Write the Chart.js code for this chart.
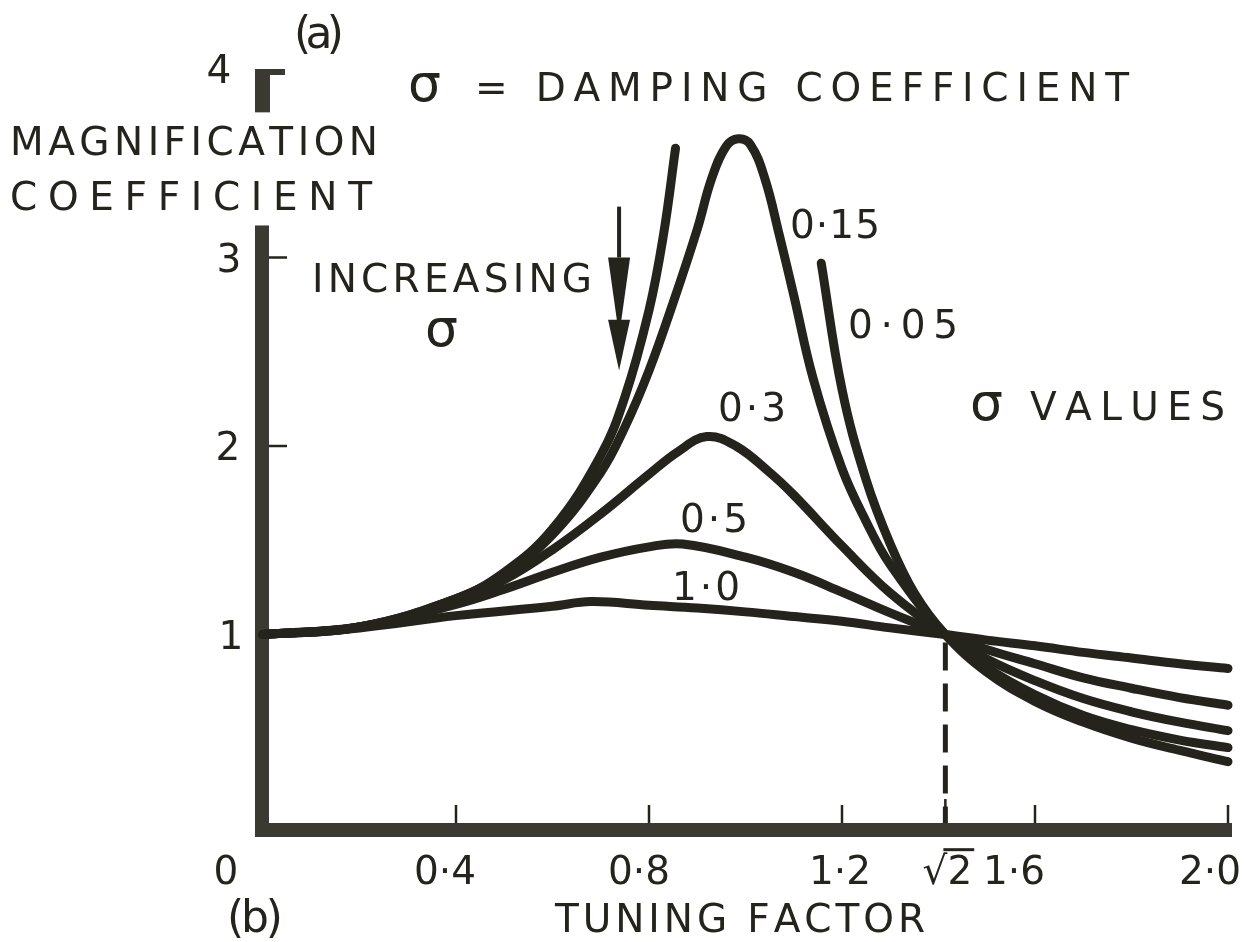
<!DOCTYPE html>
<html lang="en">
<head>
  <meta charset="UTF-8" />
  <title>Magnification coefficient against tuning factor</title>
  <script src="https://cdn.jsdelivr.net/npm/chart.js"></script>
  <style>
    html, body { margin: 0; padding: 0; background: #fff; }
    #wrap { width: 1244px; height: 942px; }
  </style>
</head>
<body>
  <div id="wrap"><canvas id="chart" width="1244" height="942"></canvas></div>

  <script>
    // tuning factor (x) and magnification coefficient (y), one pair of arrays per damping value
    const tf10 = [0, 0.2, 0.4, 0.6, 0.68, 0.8, 0.9, 1.0, 1.1, 1.2, 1.3, 1.414, 1.5, 1.6, 1.7, 1.8, 1.9, 2.0];
    const mag10 = [1.0, 1.035, 1.10, 1.15, 1.175, 1.155, 1.14, 1.12, 1.095, 1.07, 1.035, 1.0, 0.97, 0.94, 0.905, 0.875, 0.845, 0.82];

    const tf50 = [0, 0.2, 0.4, 0.5, 0.6, 0.7, 0.8, 0.87, 1.0, 1.1, 1.2, 1.3, 1.414, 1.5, 1.6, 1.7, 1.8, 1.9, 2.0];
    const mag50 = [1.0, 1.04, 1.16, 1.24, 1.33, 1.41, 1.465, 1.48, 1.41, 1.33, 1.225, 1.115, 1.0, 0.92, 0.845, 0.77, 0.715, 0.665, 0.625];

    const tf30 = [0, 0.2, 0.4, 0.5, 0.6, 0.7, 0.8, 0.86, 0.92, 0.98, 1.05, 1.1, 1.2, 1.3, 1.414, 1.5, 1.6, 1.7, 1.8, 1.9, 2.0];
    const mag30 = [1.0, 1.04, 1.18, 1.29, 1.45, 1.64, 1.85, 1.97, 2.05, 2.0, 1.86, 1.74, 1.47, 1.22, 1.0, 0.87, 0.755, 0.66, 0.59, 0.535, 0.49];

    const tf15 = [0, 0.2, 0.4, 0.5, 0.6, 0.7, 0.75, 0.8, 0.85, 0.9, 0.93, 0.96, 0.985, 1.01, 1.04, 1.07, 1.1, 1.14, 1.2, 1.25, 1.3, 1.414, 1.5, 1.6, 1.7, 1.8, 1.9, 2.0];
    const mag15 = [1.0, 1.04, 1.19, 1.32, 1.53, 1.86, 2.1, 2.4, 2.76, 3.15, 3.42, 3.59, 3.63, 3.6, 3.42, 3.12, 2.8, 2.36, 1.88, 1.6, 1.37, 1.0, 0.825, 0.68, 0.57, 0.495, 0.44, 0.40];

    // sigma = 0.05 runs off the top, so it is drawn as a rising and a falling branch
    const tf05a = [0, 0.2, 0.4, 0.5, 0.6, 0.7, 0.75, 0.8, 0.83, 0.855];
    const mag05a = [1.0, 1.04, 1.19, 1.33, 1.56, 1.95, 2.26, 2.72, 3.12, 3.58];
    const tf05b = [1.157, 1.2, 1.25, 1.3, 1.35, 1.414, 1.5, 1.6, 1.7, 1.8, 1.9, 2.0];
    const mag05b = [2.97, 2.3, 1.82, 1.48, 1.22, 1.0, 0.80, 0.645, 0.535, 0.45, 0.385, 0.325];

    const xTicks = [0, 0.4, 0.8, 1.2, Math.SQRT2, 1.6, 2.0];
    const xTickLabels = ['0', '0·4', '0·8', '1·2', '√2', '1·6', '2·0'];
    const yTicks = [1, 2, 3, 4];
    const yTickLabels = ['1', '2', '3', '4'];

    // axis is broken between these two values
    const yBreak = [3.17, 3.77];

    const ink = '#25241c';
    const axisInk = '#3a3932';
    const font = '"DejaVu Sans", sans-serif';

    // small nudges so the tick text sits where the lettering was placed
    const xLabelShift = [-37, -11, -10, -2, 2, -21, -18];
    const yLabelX = [231, 228, 229, 219];

    const notes = [
      { t: 'MAGNIFICATION', x: 10, y: 155, w: 368 },
      { t: 'COEFFICIENT', x: 10, y: 210, w: 362 },
      { t: '= DAMPING COEFFICIENT', x: 475, y: 101, w: 654 },
      { t: 'INCREASING', x: 312, y: 292, w: 280 },
      { t: '0·15', x: 790, y: 238, w: 90 },
      { t: '0·05', x: 848, y: 338, w: 110 },
      { t: '0·3', x: 718, y: 421, w: 68 },
      { t: '0·5', x: 680, y: 532, w: 68 },
      { t: '1·0', x: 672, y: 600, w: 68 },
      { t: 'VALUES', x: 1030, y: 420, w: 195 },
      { t: 'TUNING FACTOR', x: 555, y: 932, w: 370 },
      { t: '(a)', x: 294, y: 48, w: 50, size: 44 },
      { t: '(b)', x: 227, y: 932, w: 56, size: 44 }
    ];
    const sigmas = [{ x: 408, y: 101 }, { x: 425, y: 346 }, { x: 970, y: 420 }];

    const toPoints = (xs, ys) => xs.map((x, i) => ({ x, y: ys[i] }));

    function curve(label, xs, ys) {
      return {
        label,
        data: toPoints(xs, ys),
        borderColor: ink,
        borderWidth: 9,
        borderCapStyle: 'round',
        borderJoinStyle: 'round',
        tension: 0.4,
        pointRadius: 0,
        fill: false,
        clip: false
      };
    }

    // letters spread out evenly to fill a given width
    function spaced(ctx, text, left, base, width) {
      const chars = [...text];
      const widths = chars.map(c => ctx.measureText(c).width);
      const total = widths.reduce((a, b) => a + b, 0);
      const gap = chars.length > 1 ? (width - total) / (chars.length - 1) : 0;
      let x = left;
      chars.forEach((c, i) => {
        ctx.fillText(c, x, base);
        x += widths[i] + gap;
      });
    }

    const axesPlugin = {
      id: 'axes',
      beforeDraw(chart) {
        const ctx = chart.ctx;
        ctx.save();
        ctx.fillStyle = '#ffffff';
        ctx.fillRect(0, 0, chart.width, chart.height);
        ctx.restore();
      },
      beforeDatasetsDraw(chart) {
        const { ctx, scales: { x, y } } = chart;
        const x0 = x.getPixelForValue(0);
        const y0 = y.getPixelForValue(0);
        const xEnd = x.getPixelForValue(2);
        ctx.save();
        ctx.fillStyle = axisInk;
        // vertical axis, broken below 4
        const axTop = y.getPixelForValue(yBreak[0]);
        ctx.fillRect(x0 - 8, axTop, 14, y0 + 14 - axTop);
        const y4 = y.getPixelForValue(4);
        ctx.fillRect(x0 - 8, y4, 15, y.getPixelForValue(yBreak[1]) - y4);
        ctx.fillRect(x0 - 8, y4, 30, 6);
        // horizontal axis
        ctx.fillRect(x0 - 8, y0, xEnd + 4 - (x0 - 8), 14);

        // tick marks point into the plot
        ctx.strokeStyle = ink;
        ctx.lineWidth = 2.5;
        xTicks.forEach(v => {
          if (v === 0) return;
          const px = x.getPixelForValue(v);
          const len = v === Math.SQRT2 ? 24 : 18;
          ctx.beginPath();
          ctx.moveTo(px, y0);
          ctx.lineTo(px, y0 - len);
          ctx.stroke();
        });
        yTicks.slice(0, 3).forEach(v => {
          const py = y.getPixelForValue(v);
          ctx.beginPath();
          ctx.moveTo(x0 + 6, py);
          ctx.lineTo(x0 + 24, py);
          ctx.stroke();
        });

        // dashed drop line from the common crossing point
        const xr = x.getPixelForValue(Math.SQRT2);
        ctx.lineWidth = 5;
        ctx.setLineDash([28, 13]);
        ctx.beginPath();
        ctx.moveTo(xr, y.getPixelForValue(1) + 8);
        ctx.lineTo(xr, y0);
        ctx.stroke();
        ctx.setLineDash([]);

        // arrow marking the direction of increasing damping
        const ax = x.getPixelForValue(0.738);
        const aTop = y.getPixelForValue(3.27);
        const h1 = y.getPixelForValue(3.0);
        const h2 = y.getPixelForValue(2.67);
        const tip = y.getPixelForValue(2.4);
        ctx.lineWidth = 4;
        ctx.beginPath();
        ctx.moveTo(ax, aTop);
        ctx.lineTo(ax, h1);
        ctx.stroke();
        ctx.fillStyle = ink;
        ctx.beginPath();
        ctx.moveTo(ax - 11, h1);
        ctx.lineTo(ax + 11, h1);
        ctx.lineTo(ax + 2, h2 + 2);
        ctx.lineTo(ax - 2, h2 + 2);
        ctx.closePath();
        ctx.fill();
        ctx.beginPath();
        ctx.moveTo(ax - 11, h2);
        ctx.lineTo(ax + 11, h2);
        ctx.lineTo(ax, tip);
        ctx.closePath();
        ctx.fill();
        ctx.restore();
      },
      afterDraw(chart) {
        const { ctx, scales: { x, y } } = chart;
        const size = 39;
        ctx.save();
        ctx.fillStyle = ink;
        ctx.strokeStyle = ink;
        ctx.textBaseline = 'alphabetic';
        ctx.font = `${size}px ${font}`;

        // tick labels
        ctx.textAlign = 'left';
        xTicks.forEach((v, i) => {
          const txt = xTickLabels[i];
          const w = ctx.measureText(txt).width;
          const left = x.getPixelForValue(v) + xLabelShift[i] - w / 2;
          ctx.fillText(txt, left, 884);
          if (txt.startsWith('√')) {
            // bar over the radicand
            const wr = ctx.measureText('√').width;
            ctx.lineWidth = 3;
            ctx.beginPath();
            ctx.moveTo(left + wr - 4, 884 - size * 0.88);
            ctx.lineTo(left + w + 2, 884 - size * 0.88);
            ctx.stroke();
          }
        });
        ctx.textAlign = 'center';
        yTicks.forEach((v, i) => {
          const py = y.getPixelForValue(v) + size * 0.73 / 2;
          ctx.fillText(yTickLabels[i], yLabelX[i], py);
        });

        // titles and curve notes
        ctx.textAlign = 'left';
        notes.forEach(n => {
          ctx.font = `${n.size || size}px ${font}`;
          spaced(ctx, n.t, n.x, n.y, n.w);
        });
        ctx.font = `52px ${font}`;
        sigmas.forEach(s => ctx.fillText('σ', s.x, s.y));
        ctx.restore();
      }
    };

    const ctx = document.getElementById('chart').getContext('2d');
    new Chart(ctx, {
      type: 'line',
      data: {
        datasets: [
          curve('1·0', tf10, mag10),
          curve('0·5', tf50, mag50),
          curve('0·3', tf30, mag30),
          curve('0·15', tf15, mag15),
          curve('0·05', tf05a, mag05a),
          curve('0·05', tf05b, mag05b)
        ]
      },
      options: {
        responsive: false,
        animation: false,
        events: [],
        layout: { padding: { left: 263, right: 16, top: 69, bottom: 119 } },
        plugins: {
          legend: { display: false },
          tooltip: { enabled: false }
        },
        scales: {
          x: { type: 'linear', min: 0, max: 2, display: false },
          y: { type: 'linear', min: 0, max: 4, display: false }
        }
      },
      plugins: [axesPlugin]
    });
  </script>
</body>
</html>
